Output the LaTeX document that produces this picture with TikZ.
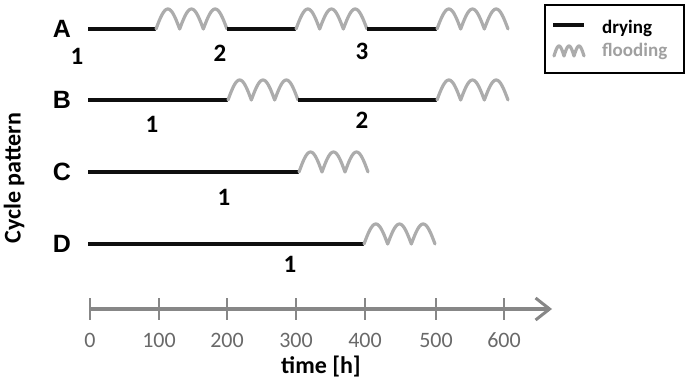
\documentclass[tikz,border=0pt]{standalone}
\usepackage{fontspec}
\setmainfont{Carlito}
\newfontfamily\arialf{Liberation Sans}
\usetikzlibrary{arrows.meta}
\definecolor{wavegray}{RGB}{172,172,172}
\definecolor{axisgray}{RGB}{135,135,135}
\definecolor{ticktext}{RGB}{105,105,105}
\definecolor{drycol}{RGB}{15,15,15}
\definecolor{floodtext}{RGB}{160,160,160}
\newcommand\floodwave[4]{% xa, xb, base, height
  \draw[wavestyle] plot[domain=0:1, samples=73] ({#1+\x*(#2-#1)}, {#3 - #4*abs(sin(540*\x))});}
\begin{document}
\begin{tikzpicture}[x=1pt,y=-1pt,
  drystyle/.style={draw=drycol, line width=3.4pt},
  wavestyle/.style={draw=wavegray, line width=3.2pt, line join=round, line cap=round},
  rowlabel/.style={font=\arialf\bfseries\fontsize{25}{25}\selectfont, inner sep=0pt},
  cyclabel/.style={font=\bfseries\fontsize{25}{25}\selectfont, inner sep=0pt},
  ticklabel/.style={font=\fontsize{22}{22}\selectfont, text=ticktext, inner sep=0pt},
  axisstyle/.style={draw=axisgray, line width=3.2pt}]
\useasboundingbox (0,0) rectangle (688,382);

% row labels
\node[rowlabel] (lA) at (62,29) {A};
\node[rowlabel] (lB) at (62,100) {B};
\node[rowlabel] (lC) at (62,172) {C};
\node[rowlabel] (lD) at (62,244) {D};

% row A
\draw[drystyle] (88,29) -- (156,29);
\floodwave{156}{227}{29}{20}
\draw[drystyle] (227,29) -- (296,29);
\floodwave{296}{367}{29}{20}
\draw[drystyle] (367,29) -- (437,29);
\floodwave{437}{508}{29}{20}
\node[cyclabel] (a1) at (77,56) {1};
\node[cyclabel] (a2) at (220,53) {2};
\node[cyclabel] (a3) at (362,51) {3};

% row B
\draw[drystyle] (88,100) -- (228,100);
\floodwave{228}{298}{100}{20}
\draw[drystyle] (298,100) -- (437,100);
\floodwave{437}{508}{100}{20}
\node[cyclabel] (b1) at (152,124) {1};
\node[cyclabel] (b2) at (362,120) {2};

% row C
\draw[drystyle] (88,172) -- (299,172);
\floodwave{299}{368}{172}{20}
\node[cyclabel] (c1) at (224,197) {1};

% row D
\draw[drystyle] (88,244) -- (364,244);
\floodwave{364}{435}{244}{20}
\node[cyclabel] (d1) at (290,264) {1};

% y label
\node[font=\bfseries\fontsize{24}{24}\selectfont, inner sep=0pt, rotate=90] (ylab) at (14,178) {Cycle pattern};

% time axis
\draw[axisstyle, -{Straight Barb[length=14pt,width=22pt,line width=3pt]}] (89,309) -- (552,309);
\foreach \t/\xx in {0/90,100/159,200/227,300/296,400/365,500/436,600/504}{
  \draw[axisstyle, line width=2.6pt] (\xx,298) -- (\xx,320);
  \node[ticklabel] (t\t) at (\xx,340) {\t};
}
\node[font=\bfseries\fontsize{24}{24}\selectfont, inner sep=0pt] (tlab) at (321,367) {time [h]};

% legend
\draw[black, line width=1.8pt] (545,5) rectangle (684,73);
\draw[drystyle] (553,25) -- (584,25);
\floodwave{554}{584}{56}{10}
\node[font=\bfseries\fontsize{19}{19}\selectfont, anchor=west, inner sep=0pt] (ldry) at (602,28) {drying};
\node[font=\bfseries\fontsize{19}{19}\selectfont, text=floodtext, anchor=west, inner sep=0pt] (lflood) at (602,51) {flooding};
\end{tikzpicture}
\end{document}
